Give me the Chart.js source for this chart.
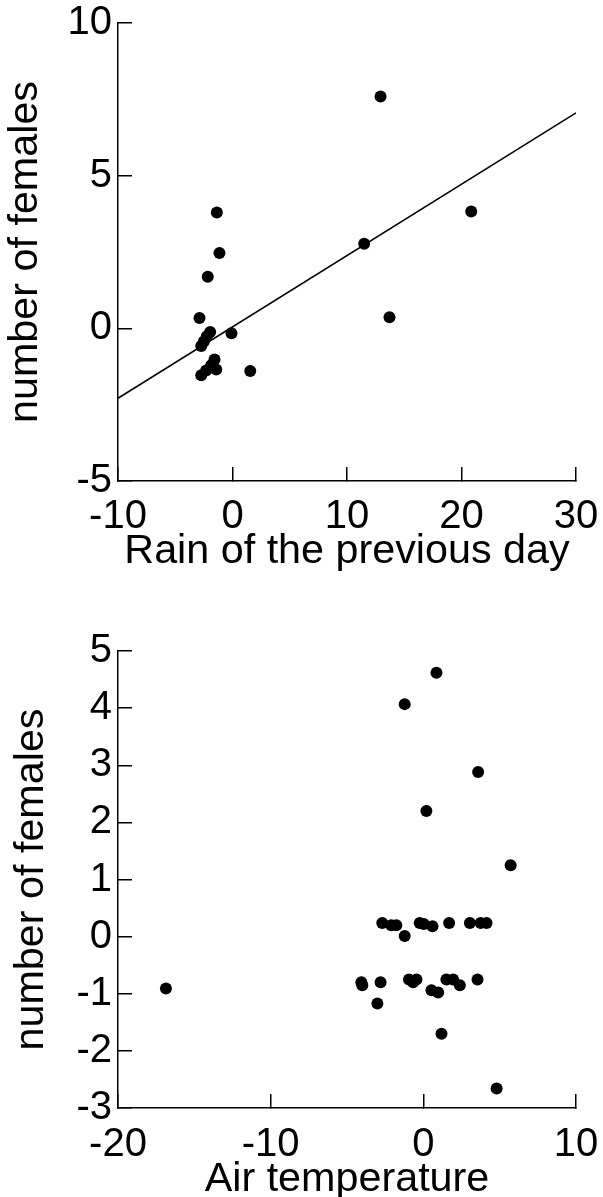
<!DOCTYPE html>
<html>
<head>
<meta charset="utf-8">
<script src="https://cdn.jsdelivr.net/npm/chart.js@4/dist/chart.umd.min.js"></script>
<style>
  html, body { margin: 0; padding: 0; background: #fff; }
  .box { position: relative; width: 603px; }
  #boxRain { height: 600px; }
  #boxTemp { height: 597px; }
</style>
</head>
<body>
<div class="box" id="boxRain"><canvas id="chartRain"></canvas></div>
<div class="box" id="boxTemp"><canvas id="chartTemp"></canvas></div>
<script>
// ---- data: rain of the previous day ----
const rainX = [12.93, -1.37, 20.85, -1.14, 11.5, -2.16, -2.88, 13.71, -0.09,
               -1.95, -2.24, -2.50, -2.73, -1.57, -1.42, -1.86, -2.30, -2.73, 1.55];
const rainY = [7.59, 3.79, 3.83, 2.47, 2.77, 1.69, 0.34, 0.36, -0.16,
               -0.12, -0.26, -0.43, -0.58, -1.02, -1.35, -1.21, -1.38, -1.54, -1.40];
// regression line ends
const rainLineX = [-10, 30];
const rainLineY = [-2.29, 7.06];

// ---- data: air temperature ----
const tempX = [0.86, -1.22, 3.59, 0.20, 5.72,
               -2.69, -2.10, -1.77, -0.24, 0.03, 0.60, 1.69, 3.05, 3.75, 4.14, -1.22,
               -4.06, -4.00, -2.80, -0.94, -0.67, -0.45, 0.53, 0.97, 1.51, 1.95, 2.39, 3.55,
               -16.86, -3.01, 1.19, 4.80];
const tempY = [4.62, 4.07, 2.88, 2.20, 1.25,
               0.24, 0.20, 0.20, 0.24, 0.22, 0.18, 0.24, 0.24, 0.24, 0.24, 0.01,
               -0.80, -0.85, -0.80, -0.75, -0.80, -0.75, -0.94, -0.98, -0.75, -0.75, -0.85, -0.75,
               -0.91, -1.17, -1.70, -2.66];

const FONT = 'Liberation Sans, Arial, Helvetica, sans-serif';
Chart.defaults.font.family = FONT;
Chart.defaults.color = '#000';

const toPoints = (xs, ys) => xs.map((x, i) => ({ x: x, y: ys[i] }));

// common axis look: black axis line, short ticks pointing inward
function axisStyle() {
    return {
        grid: { drawOnChartArea: false, drawTicks: true, tickLength: -14, color: '#000', lineWidth: 1.5 },
        border: { display: true, color: '#000', width: 1.5 }
    };
}

function makeChart(id, o) {
    const datasets = [{
        type: 'scatter',
        data: toPoints(o.xs, o.ys),
        backgroundColor: '#000',
        borderWidth: 0,
        pointRadius: 6,
        pointHoverRadius: 6
    }];
    if (o.lineX) {
        datasets.push({
            type: 'line',
            data: toPoints(o.lineX, o.lineY),
            borderColor: '#000',
            borderWidth: 1.5,
            pointRadius: 0,
            fill: false
        });
    }
    return new Chart(document.getElementById(id), {
        type: 'scatter',
        data: { datasets: datasets },
        options: {
            responsive: true,
            maintainAspectRatio: false,
            animation: false,
            events: [],
            layout: { padding: { top: o.padTop, right: 27, left: 0, bottom: 0 } },
            plugins: { legend: { display: false }, tooltip: { enabled: false } },
            scales: {
                x: Object.assign(axisStyle(), {
                    type: 'linear',
                    min: o.xMin, max: o.xMax,
                    afterFit: s => { s.height = o.xHeight; s.paddingLeft = 0; s.paddingRight = 0; },
                    ticks: { stepSize: 10, autoSkip: false, maxRotation: 0, padding: o.xTickPad,
                             font: { size: 40, lineHeight: 1 } },
                    title: { display: true, text: o.xTitle, font: { size: 41.3, lineHeight: 0.8 },
                             padding: { top: 0, bottom: o.xTitlePad } }
                }),
                y: Object.assign(axisStyle(), {
                    type: 'linear',
                    min: o.yMin, max: o.yMax,
                    afterFit: s => { s.width = 118; s.paddingTop = 0; s.paddingBottom = 0; },
                    ticks: { stepSize: o.yStep, autoSkip: false, padding: 20,
                             font: { size: 40, lineHeight: 1 } },
                    title: { display: true, text: 'number of females', font: { size: 41.3, lineHeight: 1 },
                             padding: { top: o.yTitlePad, bottom: 0 } }
                })
            }
        }
    });
}

makeChart('chartRain', {
    xs: rainX, ys: rainY, lineX: rainLineX, lineY: rainLineY,
    xMin: -10, xMax: 30, yMin: -5, yMax: 10, yStep: 5,
    xTitle: 'Rain of the previous day',
    padTop: 23, xHeight: 119, xTickPad: 30, xTitlePad: 32, yTitlePad: 5
});

makeChart('chartTemp', {
    xs: tempX, ys: tempY,
    xMin: -20, xMax: 10, yMin: -3, yMax: 5, yStep: 1,
    xTitle: 'Air temperature',
    padTop: 51, xHeight: 89, xTickPad: 31, xTitlePad: 1, yTitlePad: 11
});
</script>
</body>
</html>
